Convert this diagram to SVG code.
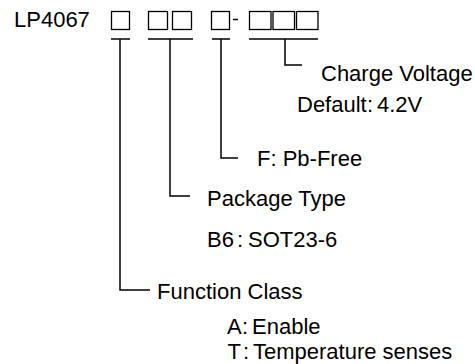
<svg xmlns="http://www.w3.org/2000/svg" width="475" height="364" viewBox="0 0 475 364">
<style>
text{font-family:"Liberation Sans",Arial,sans-serif;font-size:22px;fill:#000}
.box{fill:none;stroke:#000;stroke-width:1.3}
.ln{fill:none;stroke:#000;stroke-width:1.5}
</style>
<rect width="475" height="364" fill="#fff"/>
<g id="title">
<text x="14" y="27">LP4067</text>
<rect class="box" x="111.5" y="11.5" width="18" height="18"/>
<rect class="box" x="148.5" y="11.5" width="19" height="18"/>
<rect class="box" x="172.5" y="11.5" width="19" height="18"/>
<rect class="box" x="211.5" y="11.5" width="18" height="18"/>
<line class="ln" x1="233" y1="19.5" x2="238" y2="19.5"/>
<rect class="box" x="249.5" y="11.5" width="21.5" height="18"/>
<rect class="box" x="273" y="11.5" width="21.5" height="18"/>
<rect class="box" x="296.5" y="11.5" width="21.5" height="18"/>
</g>
<g id="connectors">
<path class="ln" d="M111 39H130M120 39V290H150"/>
<path class="ln" d="M148 39H193M170 39V196H190"/>
<path class="ln" d="M212 39H230M221 39V158H238"/>
<path class="ln" d="M249 39H318M285 39V65H302"/>
</g>
<g id="charge-voltage">
<text x="321" y="81">Charge Voltage</text>
<text x="297" y="112">Default<tspan x="367">:</tspan><tspan x="377">4.2V</tspan></text>
</g>
<g id="pb-free">
<text x="257" y="166">F: Pb-Free</text>
</g>
<g id="package-type">
<text x="207" y="206">Package Type</text>
<text x="207" y="247">B6<tspan x="237">:</tspan><tspan x="248">SOT23-6</tspan></text>
</g>
<g id="function-class">
<text x="157" y="299">Function Class</text>
<text x="227" y="334">A<tspan x="242">:</tspan><tspan x="252">Enable</tspan></text>
<text x="227.5" y="359">T<tspan x="243">:</tspan><tspan x="253">Temperature senses</tspan></text>
</g>
</svg>
